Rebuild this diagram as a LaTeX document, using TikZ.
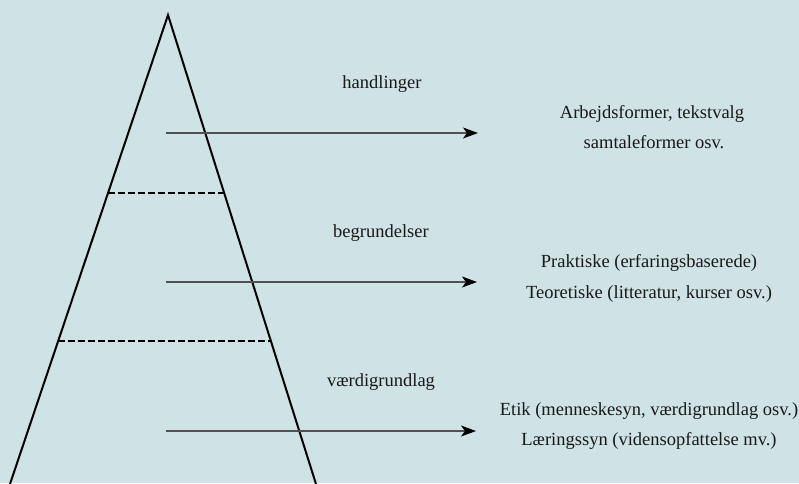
\documentclass[tikz,border=0pt]{standalone}
\usepackage{fontspec}
\setmainfont{Liberation Serif}
\usetikzlibrary{arrows.meta}
\definecolor{bgcol}{RGB}{207,226,229}
\definecolor{arrcol}{RGB}{80,80,80}
\tikzset{
  side/.style={line width=2pt, black},
  divider/.style={line width=2pt, black, dash pattern=on 6.5pt off 3.5pt},
  pointer/.style={line width=1.1pt, arrcol, -{Stealth[length=15pt, width=11pt, inset=4pt, black]}},
  lbl/.style={anchor=base, inner sep=0pt, text=black!90, font=\fontsize{18.5}{22}\selectfont},
}
\begin{document}
\begin{tikzpicture}[x=1pt, y=-1pt]
\fill[bgcol] (0,0) rectangle (799,483);
\useasboundingbox (0,0) rectangle (799,483);
% triangle
\coordinate (apex) at (168,15);
\coordinate (bl) at (10,484);
\coordinate (br) at (316,484);
\draw[side, line join=miter] (bl) -- (apex) -- (br);
% dividers
\coordinate (d1l) at (108,193);
\coordinate (d1r) at (224,193);
\coordinate (d2l) at (58,341);
\coordinate (d2r) at (271,341);
\draw[divider] (d1l) -- (d1r);
\draw[divider] (d2l) -- (d2r);
% arrows
\coordinate (a1s) at (166,133);
\coordinate (a1e) at (478,133);
\coordinate (a2s) at (166,282);
\coordinate (a2e) at (477,282);
\coordinate (a3s) at (166,431);
\coordinate (a3e) at (476,431);
\draw[pointer] (a1s) -- (a1e);
\draw[pointer] (a2s) -- (a2e);
\draw[pointer] (a3s) -- (a3e);
% level labels
\node[lbl] (l1) at (382,88) {handlinger};
\node[lbl] (l2) at (381,237) {begrundelser};
\node[lbl] (l3) at (381,386) {værdigrundlag};
% right texts
\node[lbl] (r1a) at (652,118) {Arbejdsformer, tekstvalg};
\node[lbl] (r1b) at (654,148) {samtaleformer osv.};
\node[lbl] (r2a) at (649,267) {Praktiske (erfaringsbaserede)};
\node[lbl] (r2b) at (649,298) {Teoretiske (litteratur, kurser osv.)};
\node[lbl] (r3a) at (649,415) {Etik (menneskesyn, værdigrundlag osv.)};
\node[lbl] (r3b) at (649,445) {Læringssyn (vidensopfattelse mv.)};
\end{tikzpicture}
\end{document}
